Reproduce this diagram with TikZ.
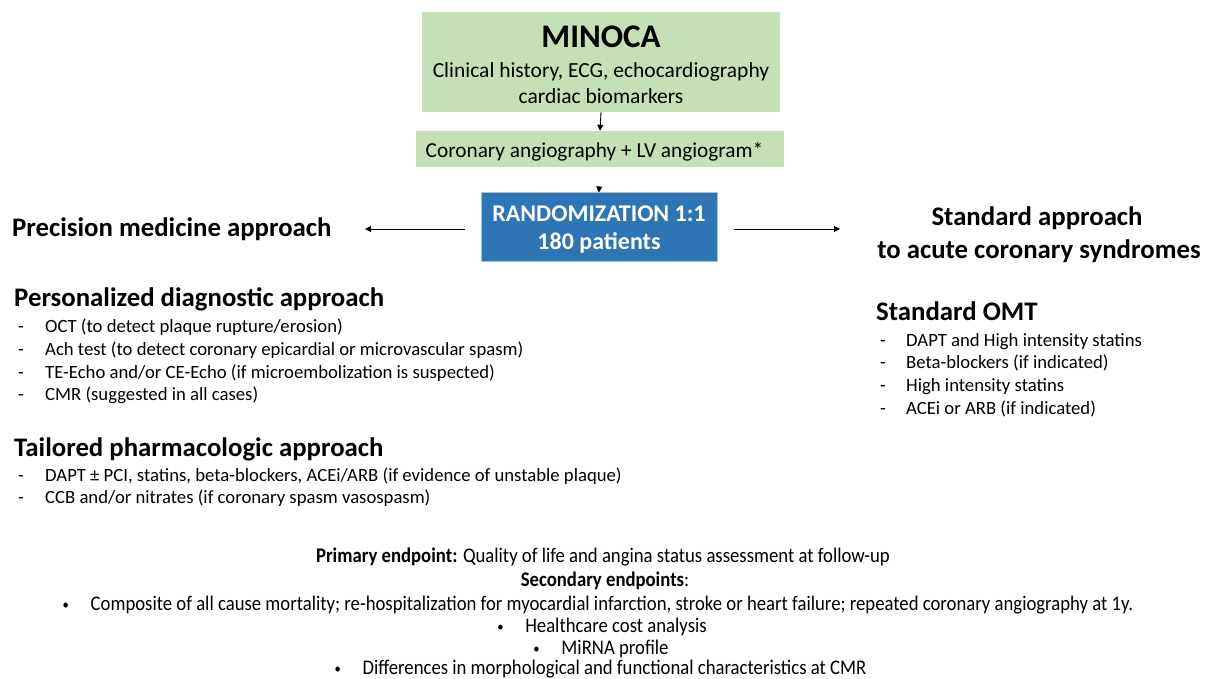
\documentclass[tikz,border=0pt]{standalone}
\usepackage{fontspec}
\setmainfont{Carlito}
\newfontfamily\condfont[FakeStretch=0.9]{Carlito}
\usetikzlibrary{arrows.meta}
\definecolor{boxgreen}{RGB}{197,224,180}
\definecolor{randblue}{RGB}{46,117,182}
\definecolor{randedge}{RGB}{157,195,230}
\newcommand{\fsz}[1]{\fontsize{#1}{#1}\selectfont}
\newcommand{\smbul}{\makebox[28pt][l]{\raisebox{1pt}{\fontsize{14}{14}\selectfont •}}}
\begin{document}
\begin{tikzpicture}[x=1pt,y=-1pt,
  greenbox/.style={fill=boxgreen, draw=none, inner sep=0},
  randbox/.style={fill=randblue, draw=randedge, line width=1pt, inner sep=0},
  arr/.style={-{Triangle[length=6pt,width=6pt]}, line width=0.9pt},
  txt/.style={inner sep=0, anchor=base west},
  ctxt/.style={inner sep=0, anchor=base},
  head/.style={txt, font=\fsz{26.8}\bfseries},
  big/.style={ctxt, font=\fsz{26.8}\bfseries},
  item/.style={txt, font=\fsz{18.7}},
  endp/.style={ctxt, font=\condfont\fsz{20.8}},
]
\useasboundingbox (0,0) rectangle (1211,679);
\fill[white] (0,0) rectangle (1211,679);

% boxes
\node[greenbox, minimum width=358, minimum height=100] (minoca) at (601,62) {};
\node[greenbox, minimum width=368, minimum height=36] (coro) at (600,149) {};
\node[randbox, minimum width=236, minimum height=69] (rand) at (599,227.5) {};

% box texts
\node[ctxt, font=\fsz{33}\bfseries] (t1) at (601,48) {MINOCA};
\node[ctxt, font=\fsz{21.5}] (t2) at (601,78) {Clinical history, ECG, echocardiography};
\node[ctxt, font=\fsz{21.5}] (t3) at (601,104) {cardiac biomarkers};
\node[ctxt, font=\fsz{21.3}] (t4) at (594.5,158) {Coronary angiography + LV angiogram*};
\node[ctxt, font=\fsz{24}\bfseries, text=white] (t5) at (599,222) {RANDOMIZATION 1:1};
\node[ctxt, font=\fsz{24}\bfseries, text=white] (t6) at (599,250) {180 patients};

% arrows
\draw[arr] (minoca.south) -- (coro.north);
\draw[arr, shorten <=19pt] (coro.south) -- (rand.north);
\coordinate (lefttip) at (365,229);
\coordinate (righttip) at (840,229);
\draw[arr, shorten <=16pt] (rand.west |- lefttip) -- (lefttip);
\draw[arr, shorten <=16pt] (rand.east |- righttip) -- (righttip);

% side titles
\node[txt, font=\fsz{26.8}\bfseries] (prec) at (12,237) {Precision medicine approach};
\node[big] (std1) at (1037,226) {Standard approach};
\node[big] (std2) at (1039,259) {to acute coronary syndromes};

% left column
\node[head] (pers) at (14,307) {Personalized diagnostic approach};
\node[item] (p1) at (18,332) {\makebox[27pt][l]{-}OCT (to detect plaque rupture/erosion)};
\node[item] (p2) at (18,355) {\makebox[27pt][l]{-}Ach test (to detect coronary epicardial or microvascular spasm)};
\node[item] (p3) at (18,378) {\makebox[27pt][l]{-}TE-Echo and/or CE-Echo (if microembolization is suspected)};
\node[item] (p4) at (18,400) {\makebox[27pt][l]{-}CMR (suggested in all cases)};
\node[head] (tail) at (14,456) {Tailored pharmacologic approach};
\node[item] (q1) at (18,481) {\makebox[27pt][l]{-}DAPT ± PCI, statins, beta-blockers, ACEi/ARB (if evidence of unstable plaque)};
\node[item] (q2) at (18,503) {\makebox[27pt][l]{-}CCB and/or nitrates (if coronary spasm vasospasm)};

% right column
\node[head] (omt) at (876,320) {Standard OMT};
\node[item] (r1) at (880,346) {\makebox[26pt][l]{-}DAPT and High intensity statins};
\node[item] (r2) at (880,368) {\makebox[26pt][l]{-}Beta-blockers (if indicated)};
\node[item] (r3) at (880,391) {\makebox[26pt][l]{-}High intensity statins};
\node[item] (r4) at (880,414) {\makebox[26pt][l]{-}ACEi or ARB (if indicated)};

% endpoints
\node[endp] (e1) at (603,562) {\textbf{Primary endpoint:} Quality of life and angina status assessment at follow-up};
\node[endp] (e2) at (605,586) {\textbf{Secondary endpoints}:};
\node[endp] (e3) at (598,610) {\smbul Composite of all cause mortality; re-hospitalization for myocardial infarction, stroke or heart failure; repeated coronary angiography at 1y.};
\node[endp] (e4) at (602,632) {\smbul Healthcare cost analysis};
\node[endp] (e5) at (601,654) {\smbul MiRNA profile};
\node[endp] (e6) at (600.5,674.5) {\smbul Differences in morphological and functional characteristics at CMR};
\end{tikzpicture}
\end{document}
